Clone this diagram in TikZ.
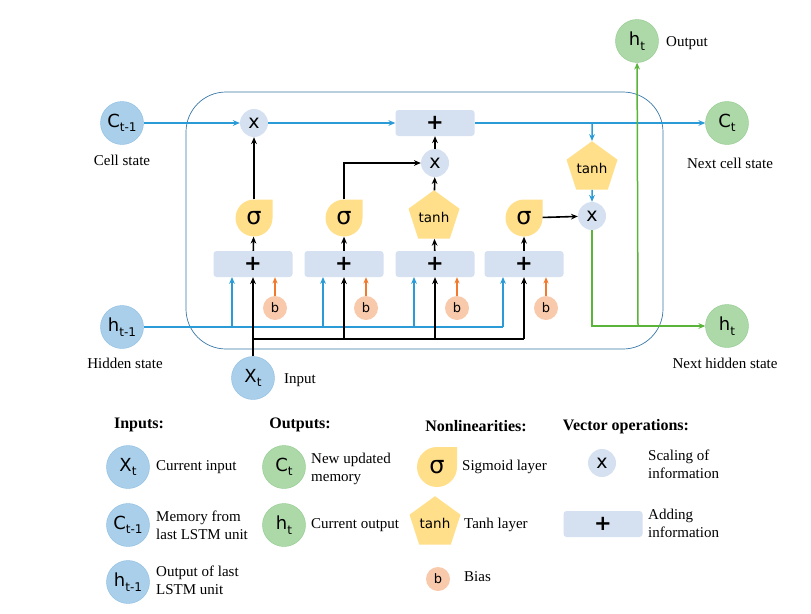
\documentclass[tikz,border=0pt]{standalone}
\usepackage{fontspec}
\setmainfont{Liberation Serif}
\newfontfamily\symf{DejaVu Sans}
\usetikzlibrary{arrows.meta,positioning,shapes.geometric}
\definecolor{lineblue}{HTML}{2B9BD8}
\definecolor{frameblue}{HTML}{3677A8}
\definecolor{inblue}{HTML}{A9CFEA}
\definecolor{instroke}{HTML}{8DBDE2}
\definecolor{outgreen}{HTML}{ADD9A9}
\definecolor{outstroke}{HTML}{8FC98B}
\definecolor{opblue}{HTML}{D5E1F1}
\definecolor{sigyel}{HTML}{FFDF8A}
\definecolor{biasor}{HTML}{F8C9AA}
\definecolor{orangex}{HTML}{F07B2E}
\definecolor{greenx}{HTML}{5AB43A}
\tikzset{
  arb/.style={-{Stealth[length=2.4mm,width=2mm]},line width=1.5pt,lineblue},
  ark/.style={-{Stealth[length=2.4mm,width=2mm]},line width=1.6pt,black},
  arg/.style={-{Stealth[length=2.4mm,width=2mm]},line width=1.5pt,greenx},
  aro/.style={-{Stealth[length=2.2mm,width=1.8mm]},line width=1.3pt,orangex},
  invar/.style={circle,fill=inblue,draw=instroke,minimum size=43pt,inner sep=0pt,font=\symf\fontsize{18}{18}\selectfont},
  outvar/.style={invar,fill=outgreen,draw=outstroke},
  mul/.style={circle,fill=opblue,minimum size=28pt,inner sep=0pt,font=\symf\fontsize{19}{19}\selectfont},
  addbox/.style={rectangle,rounded corners=3pt,fill=opblue,minimum width=79pt,minimum height=26pt,inner sep=0pt,font=\symf\bfseries\fontsize{21}{21}\selectfont},
  bias/.style={circle,fill=biasor,minimum size=24pt,inner sep=0pt,font=\symf\fontsize{13}{13}\selectfont},
  tnh/.style={regular polygon,regular polygon sides=5,fill=sigyel,minimum size=43pt,inner sep=0pt,font=\symf\fontsize{13.5}{13.5}\selectfont},
  lbl/.style={font=\fontsize{15}{18}\selectfont,inner sep=0pt},
  leg/.style={font=\fontsize{15}{18}\selectfont,align=left,anchor=west,inner sep=0pt},
  hdr/.style={font=\bfseries\fontsize{16}{18}\selectfont,inner sep=0pt}
}
\newcommand{\sbs}[2]{#1\raisebox{-0.45ex}{\fontsize{12}{12}\selectfont #2}}
% sigmoid: round blob with a square corner top right
\newcommand{\sgm}[4]{%
  \fill[sigyel] (#2+#4,#3) arc[start angle=0,end angle=270,radius=#4] -- (#2+#4,#3-#4) -- cycle;
  \node[circle,minimum size=2*#4 pt,inner sep=0pt,font=\symf\fontsize{24}{24}\selectfont] (#1) at (#2,#3) {σ};}

\begin{document}
\begin{tikzpicture}[x=1pt,y=-1pt]
\useasboundingbox (0,0) rectangle (811,613);
\draw[frameblue,line width=0.7pt,rounded corners=40pt] (186,92) rectangle (663,349);
% cell state path
\node[invar] (ctm1) at (122,123) {\sbs{C}{t-1}};
\node[mul] (fx) at (254,123) {x};
\node[addbox] (addc) at (435,123) {+};
\node[outvar] (ct) at (727,123) {\sbs{C}{t}};
\node[outvar] (hout) at (637,41) {\sbs{h}{t}};
\node[mul] (ix) at (435,163) {x};
\node[tnh] (tanhb) at (592,168) {tanh};
\node[mul] (ox) at (592,216) {x};
% gates
\sgm{sga}{254}{218}{18.5}
\sgm{sgb}{344}{218}{18.5}
\node[tnh] (tanha) at (434,217) {tanh};
\sgm{sgd}{524}{218}{18.5}
\foreach \p/\x in {pa/253,pb/344,pc/435,pd/524}{
  \node[addbox] (\p) at (\x,264) {+};
  \coordinate (up\p) at (\x-21,277);
}
\foreach \b/\x in {ba/275,bb/366,bc/457,bd/546}
  \node[bias] (\b) at (\x,308) {b};
\node[invar] (htm1) at (122,327) {\sbs{h}{t-1}};
\node[invar] (xt) at (253,378) {\sbs{X}{t}};
\node[outvar] (ht) at (727,326) {\sbs{h}{t}};
\coordinate (tap) at (592,123);
\coordinate (hjoin) at (638,326);
\coordinate (xbus) at (253,339);
% labels
\node[lbl] (lcell) at (122,160) {Cell state};
\node[lbl] (lhid) at (125,363) {Hidden state};
\node[lbl] (linp) at (300,380) {Input};
\node[lbl] (lout) at (687,43) {Output};
\node[lbl] (lnct) at (730,163) {Next cell state};
\node[lbl] (lnht) at (725,363) {Next hidden state};
% connectors
\draw[arb] (ctm1) -- (fx);
\draw[arb] (fx) -- (addc);
\draw[arb] (addc) -- (ct);
\draw[arb] (tap) -- (tanhb);
\draw[arb] (tanhb) -- (ox);
\draw[ark] (sga) -- (fx);
\draw[ark] (sgb.north) |- (ix);
\draw[ark] (tanha) -- (ix);
\draw[ark] (ix) -- (addc);
\draw[ark] (sgd) -- (ox);
\foreach \g/\p in {sga/pa,sgb/pb,tanha/pc,sgd/pd} \draw[ark] (\p) -- (\g);
\draw[line width=1.5pt,lineblue] (htm1) -- (uppd |- htm1);
\foreach \p in {pa,pb,pc,pd} \draw[arb] (up\p |- htm1) -- (up\p);
\draw[ark] (xt) -- (pa);
\draw[line width=1.6pt] (xbus) -- (xbus -| pd);
\foreach \p in {pb,pc,pd} \draw[ark] (xbus -| \p) -- (\p);
\foreach \b/\p in {ba/pa,bb/pb,bc/pc,bd/pd} \draw[aro] (\b) -- (\b |- \p.south);
\draw[arg] (ox) |- (ht);
\draw[arg] (hjoin) -- (hout);
% legend
\node[hdr] (hin) at (139,425) {Inputs:};
\node[hdr] (hou) at (300,425) {Outputs:};
\node[hdr] (hnl) at (476,426) {Nonlinearities:};
\node[hdr] (hvo) at (626,427) {Vector operations:};
\node[invar] (lx) at (128,467) {\sbs{X}{t}};
\node[leg] (tx) at (156,467) {Current input};
\node[invar] (lc) at (128,525) {\sbs{C}{t-1}};
\node[leg] (tc) at (156,525) {Memory from\\last LSTM unit};
\node[invar] (lh) at (128,582) {\sbs{h}{t-1}};
\node[leg] (th) at (156,580) {Output of last\\LSTM unit};
\node[outvar] (lct) at (284,467) {\sbs{C}{t}};
\node[leg] (tct) at (311,469) {New updated\\memory};
\node[outvar] (lht) at (284,525) {\sbs{h}{t}};
\node[leg] (tht) at (311,525) {Current output};
\sgm{lsig}{437}{467}{20}
\node[leg] (tsig) at (462,467) {Sigmoid layer};
\node[tnh,minimum size=41pt] (ltanh) at (435,523) {tanh};
\node[leg] (ttanh) at (464,525) {Tanh layer};
\node[bias] (lb) at (438,579) {b};
\node[leg] (tb) at (464,577) {Bias};
\node[mul] (lmul) at (602,463) {x};
\node[leg] (tmul) at (648,464) {Scaling of\\information};
\node[addbox] (ladd) at (603,524) {+};
\node[leg] (tadd) at (648,523) {Adding\\information};
\end{tikzpicture}
\end{document}
